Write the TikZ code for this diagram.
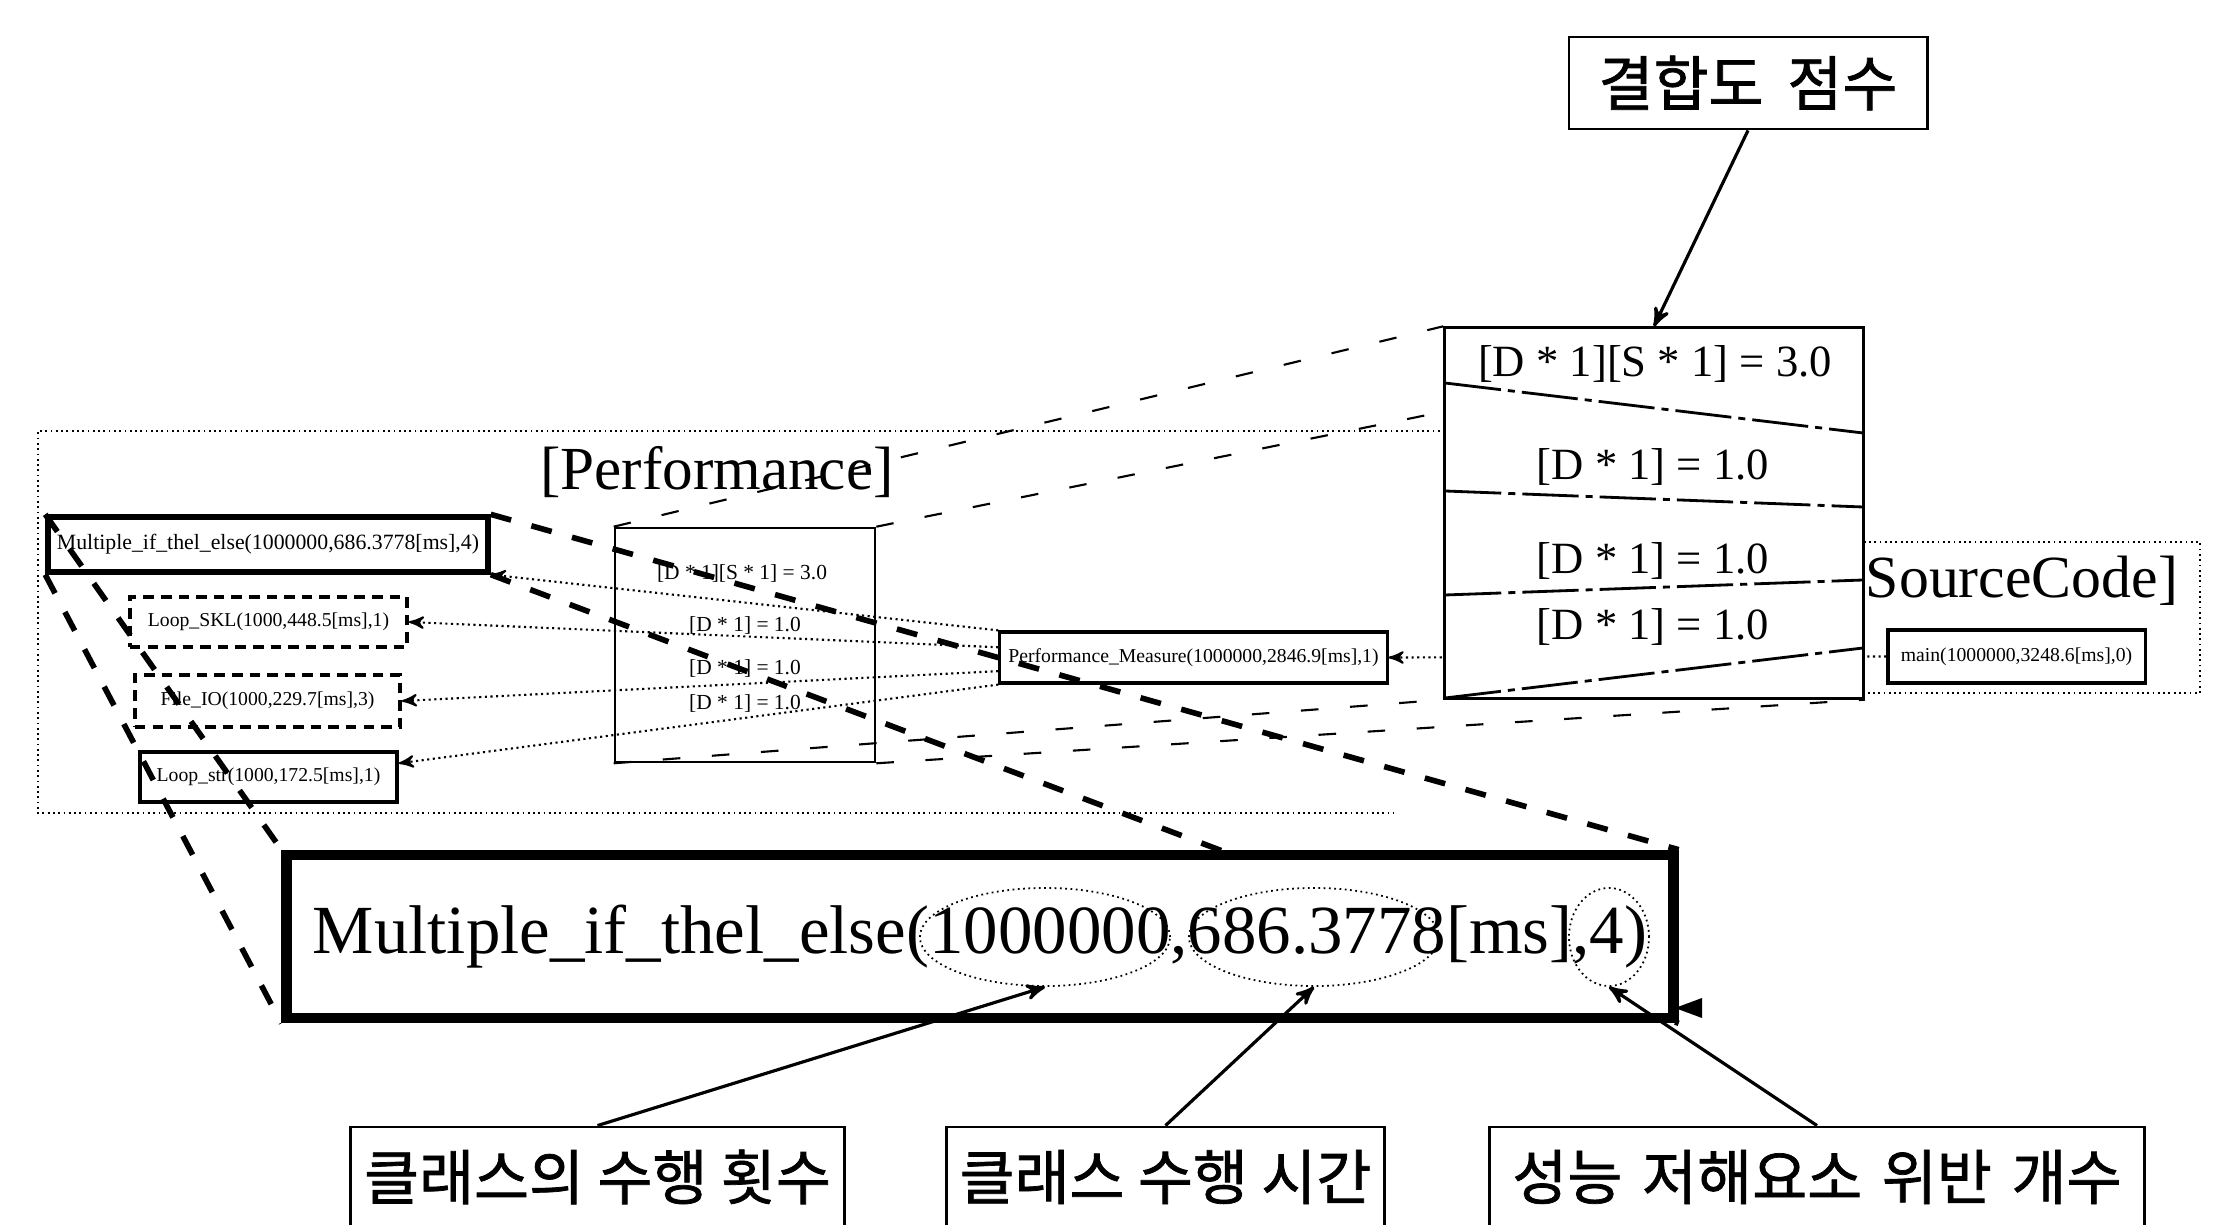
\documentclass[tikz,border=0pt]{standalone}
\usepackage{fontspec}
\setmainfont{Liberation Serif}
\newfontfamily\krfont[FakeBold=1.2]{Noto Sans CJK KR}
\usetikzlibrary{arrows}
\usetikzlibrary{shapes.geometric}
\usetikzlibrary{backgrounds}
\tikzset{
  grp/.style={densely dotted, line width=.5pt},
  pbox/.style={draw, line width=1pt, inner sep=0pt, font=\fontsize{5.6}{6}\selectfont},
  krbox/.style={draw, line width=.8pt, inner sep=0pt, font=\krfont\fontsize{17}{19}\selectfont},
  link/.style={densely dotted, line width=.6pt, ->, >=stealth'},
  callA/.style={line width=1.6pt, dash pattern=on 6pt off 6pt},
  callB/.style={line width=.6pt, dash pattern=on 5pt off 9pt},
  sepline/.style={line width=.8pt, dash pattern=on 16pt off 2pt on 2pt off 2pt},
  oval/.style={draw, ellipse, densely dotted, line width=.5pt, inner sep=0pt},
  pointer/.style={line width=.9pt, ->, >=stealth'}
}
\begin{document}
\begin{tikzpicture}[x=0.01cm, y=-0.01cm]
\useasboundingbox (0,0) rectangle (2217,1225);
\clip (0,0) rectangle (2217,1225);

\draw[grp] (1445,431) -- (38,431) -- (38,813) -- (1393,813);
\draw[grp] (1850,542) rectangle (2200,693);
\node[anchor=base, font=\fontsize{17.4}{20}\selectfont] (perf) at (717,490) {[Performance]};
\node[anchor=base, font=\fontsize{17}{20}\selectfont] (src) at (2022,598) {SourceCode]};

\node[pbox, line width=1.5pt, minimum width=4.4cm, minimum height=.55cm, font=\fontsize{6.2}{7}\selectfont] (cA) at (268,544.5) {Multiple\_if\_thel\_else(1000000,686.3778[ms],4)};
\node[pbox, densely dashed, minimum width=2.77cm, minimum height=.5cm] (cB) at (268.5,622) {Loop\_SKL(1000,448.5[ms],1)};
\node[pbox, densely dashed, minimum width=2.65cm, minimum height=.52cm] (cC) at (267.5,701) {File\_IO(1000,229.7[ms],3)};
\node[pbox, minimum width=2.57cm, minimum height=.5cm] (cD) at (268.5,777) {Loop\_str(1000,172.5[ms],1)};

\node[pbox, line width=.7pt, minimum width=2.6cm, minimum height=2.34cm] (sel) at (745,645) {};
\node[anchor=base, font=\fontsize{6.1}{7}\selectfont] (s1) at (742,580) {[D * 1][S * 1] = 3.0};
\foreach \y [count=\i from 2] in {632,675,710}
  \node[anchor=base, font=\fontsize{6.1}{7}\selectfont] (s\i) at (745,\y) {[D * 1] = 1.0};

\node[pbox, line width=.9pt, minimum width=3.87cm, minimum height=.51cm] (pm) at (1193.5,657.5) {Performance\_Measure(1000000,2846.9[ms],1)};
\node[pbox, line width=.9pt, minimum width=2.57cm, minimum height=.53cm] (sc) at (2016.5,656.5) {main(1000000,3248.6[ms],0)};

\node[draw, fill=white, line width=.9pt, minimum width=4.18cm, minimum height=3.7cm] (mag) at (1654,513) {};
\foreach \l/\r in {383/433,491/507,595/580,698/648}
  \draw[sepline] (1445,\l) -- (1863,\r);
\node[anchor=base, font=\fontsize{12.7}{14}\selectfont] (d1) at (1655,377) {[D * 1][S * 1] = 3.0};
\foreach \y [count=\i from 2] in {480,574,640}
  \node[anchor=base, font=\fontsize{12.7}{14}\selectfont] (d\i) at (1653,\y) {[D * 1] = 1.0};

\node[draw, fill=white, line width=3pt, minimum width=13.86cm, minimum height=1.63cm, font=\fontsize{19.6}{22}\selectfont] (detail) at (980,936.5) {Multiple\_if\_thel\_else(1000000,686.3778[ms],4)};
\fill (1675,1008) -- (1702,998) -- (1702,1018) -- cycle;
\node[oval, minimum width=2.5cm, minimum height=.98cm] (o1) at (1045,937) {};
\node[oval, minimum width=2.5cm, minimum height=.98cm] (o2) at (1314,937) {};
\node[oval, minimum width=.8cm, minimum height=.98cm] (o3) at (1609,937) {};

\node[krbox, minimum width=3.58cm, minimum height=.92cm] (score) at (1748,83) {결합도\hspace{.4em}점수};
\node[krbox, minimum width=4.93cm, minimum height=1cm] (cnt) at (597.5,1177) {클래스의 수행 횟수};
\node[krbox, minimum width=4.37cm, minimum height=1cm] (time) at (1165.5,1177) {클래스 수행 시간};
\node[krbox, minimum width=6.54cm, minimum height=1cm] (viol) at (1817,1177) {성능\hspace{.33em}저해요소\hspace{.33em}위반\hspace{.33em}개수};

\draw[pointer] (score.south) -- (mag.north);
\draw[pointer] (cnt.north) -- (o1.south);
\draw[pointer] (time.north) -- (o2.south);
\draw[pointer] (viol.north) -- (o3.south);

\begin{scope}[on background layer]
\fill[white] (0,0) rectangle (2217,1225);
\draw[link] (sc.west) -- (pm.east);
\draw[link] (pm.north west) -- (cA.south east);
\draw[link] (pm.177) -- (cB.east);
\draw[link] (pm.184) -- (cC.east);
\draw[link] (pm.south west) -- (cD.6);
\foreach \c in {north west,north east,south west,south east} {
  \draw[callB] (sel.\c) -- (mag.\c);
  \draw[callA] (cA.\c) -- (detail.\c);
}
\end{scope}
\end{tikzpicture}
\end{document}
